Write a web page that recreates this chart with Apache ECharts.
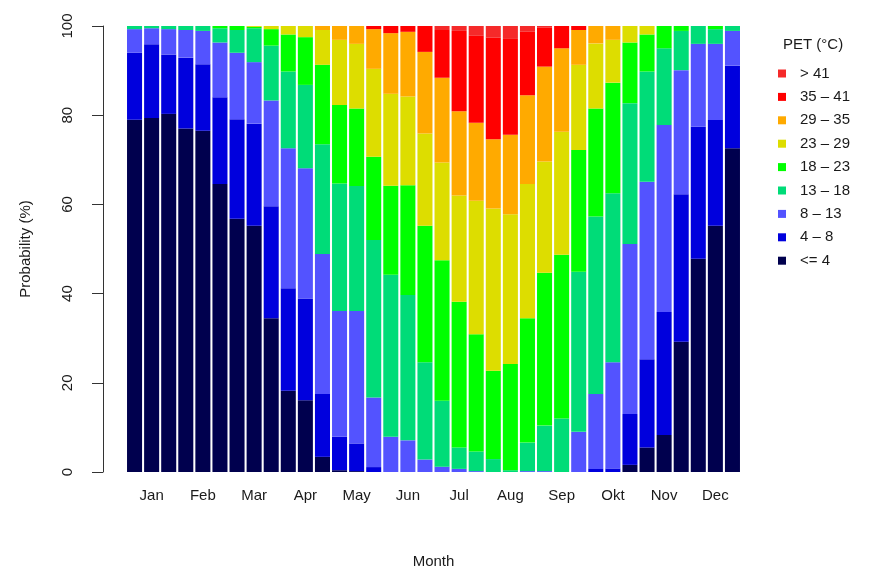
<!DOCTYPE html>
<html>
<head>
<meta charset="utf-8">
<script src="https://cdn.jsdelivr.net/npm/echarts@6/dist/echarts.min.js"></script>
<style>html,body{margin:0;padding:0;background:#fff}#c{width:869px;height:569px}</style>
</head>
<body>
<div id="c"></div>
<script>
var months = ['Jan','Feb','Mar','Apr','May','Jun','Jul','Aug','Sep','Okt','Nov','Dec'];
var decades = ['1','2','3'];
var yTicks = [0, 20, 40, 60, 80, 100];
var classNames = ['<= 4','4 – 8','8 – 13','13 – 18','18 – 23','23 – 29','29 – 35','35 – 41','> 41'];
var colors = ['#00004e','#0000dd','#5353ff','#00dc78','#00ff00','#dddd00','#ffaa00','#ff0000','#f52a2a'];

var le4   = [79.0,79.4,80.3,77.0,76.5,64.6,56.8,55.2,34.5,18.2,16.1,3.4,0.4,0.2,0,0,0,0,0,0,0,0,0,0,0,0,0,0,0,1.6,5.5,8.3,29.2,47.8,55.2,72.6];
var p4_8  = [15.0,16.5,13.3,15.9,14.9,19.4,22.3,22.9,25.1,23.0,22.8,14.1,7.5,6.2,1.1,0,0,0,0,0,0,0,0,0,0,0,0,0.7,0.8,11.4,19.8,27.6,33.1,29.6,23.7,18.5];
var p8_13 = [5.3,3.6,5.7,6.2,7.5,12.3,14.9,13.8,23.7,31.4,29.2,31.4,28.2,29.7,15.6,7.9,7.1,2.8,1.2,0.7,0.2,0,0,0.2,0.2,0,9.0,16.8,23.8,38.1,39.8,41.9,27.8,18.6,17.1,7.8];
var p13_18= [0.7,0.5,0.7,0.9,1.1,3.2,5.1,7.6,12.3,17.2,18.7,24.6,28.6,28.0,35.3,36.3,32.6,21.8,14.8,4.8,4.4,2.9,0.4,6.4,10.2,12.0,35.9,39.8,37.9,31.6,24.7,17.2,8.8,4.0,3.3,1.1];
var p18_23= [0,0,0,0,0,0.5,0.9,0.3,3.7,8.3,10.7,17.8,17.6,17.4,18.7,20.0,24.6,30.6,31.5,32.7,26.3,19.8,23.8,27.9,34.3,36.7,27.3,24.2,24.8,13.6,8.3,5.0,1.1,0,0.7,0];
var p23_29= [0,0,0,0,0,0,0,0.2,0.7,1.9,2.5,7.8,14.6,14.5,19.7,20.6,19.9,20.7,21.9,23.8,29.9,36.4,33.6,30.1,24.9,27.6,19.1,14.6,9.6,3.7,1.9,0,0,0,0,0];
var p29_35= [0,0,0,0,0,0,0,0,0,0,0,0.9,3.1,4.0,8.9,13.6,14.5,18.3,19.0,18.9,17.5,15.5,17.8,19.9,21.3,18.7,7.8,3.9,3.1,0,0,0,0,0,0,0];
var p35_41= [0,0,0,0,0,0,0,0,0,0,0,0,0,0,0.7,1.6,1.3,5.8,10.7,18.0,19.5,22.8,21.5,14.2,8.8,5.0,0.9,0,0,0,0,0,0,0,0,0];
var gt41  = [0,0,0,0,0,0,0,0,0,0,0,0,0,0,0,0,0,0,0.9,1.1,2.2,2.6,2.9,1.3,0.3,0,0,0,0,0,0,0,0,0,0,0];

var seriesData = [le4,p4_8,p8_13,p13_18,p18_23,p23_29,p29_35,p35_41,gt41];
var categories = [];
months.forEach(function(m){ decades.forEach(function(d){ categories.push(m + '-' + d); }); });

var FONT = 'Liberation Sans, Arial, sans-serif';
var chart = echarts.init(document.getElementById('c'), null, {renderer:'canvas'});
var series = seriesData.map(function(arr, i){
  return {
    name: classNames[i], type: 'bar', stack: 'pet', data: arr,
    barCategoryGap: '12%',
    itemStyle: {color: colors[i]},
    emphasis: {disabled: true}
  };
});
chart.setOption({
  animation: false,
  backgroundColor: '#ffffff',
  textStyle: {fontFamily: FONT},
  grid: {left: 126, right: 128, top: 26, bottom: 97, containLabel: false, outerBoundsMode: 'none'},
  graphic: [{
    type: 'text', left: 783, top: 37,
    style: {text: 'PET (°C)', font: '15px ' + FONT, fill: '#1a1a1a'}
  }],
  legend: {
    orient: 'vertical', left: 778, top: 65, padding: 0,
    data: classNames.slice().reverse(),
    icon: 'rect', itemWidth: 8, itemHeight: 8, itemGap: 6.4,
    textStyle: {fontFamily: FONT, fontSize: 15, color: '#1a1a1a', lineHeight: 17, padding: [0,0,0,9]},
    selectedMode: false
  },
  xAxis: {
    type: 'category', data: categories,
    name: 'Month', nameLocation: 'middle', nameGap: 82,
    nameTextStyle: {fontFamily: FONT, fontSize: 15, color: '#1a1a1a'},
    axisLine: {show: false}, axisTick: {show: false},
    axisLabel: {
      interval: function(idx){ return idx % 3 === 1; },
      formatter: function(v){ return v.split('-')[0]; },
      fontFamily: FONT, fontSize: 15, color: '#1a1a1a', margin: 16
    }
  },
  yAxis: {
    type: 'value', min: 0, max: 100, interval: 20, offset: 23,
    name: 'Probability (%)', nameLocation: 'middle', nameGap: 70,
    nameTextStyle: {fontFamily: FONT, fontSize: 15, color: '#1a1a1a'},
    axisLine: {show: true, lineStyle: {color: '#333', width: 1}},
    axisTick: {show: true, length: 11, lineStyle: {color: '#333'}},
    splitLine: {show: false},
    axisLabel: {
      rotate: 90, fontFamily: FONT, fontSize: 15, color: '#1a1a1a', margin: 28,
      formatter: function(v){ return yTicks.indexOf(v) >= 0 ? String(v) : ''; }
    }
  },
  series: series
});
</script>
</body>
</html>
